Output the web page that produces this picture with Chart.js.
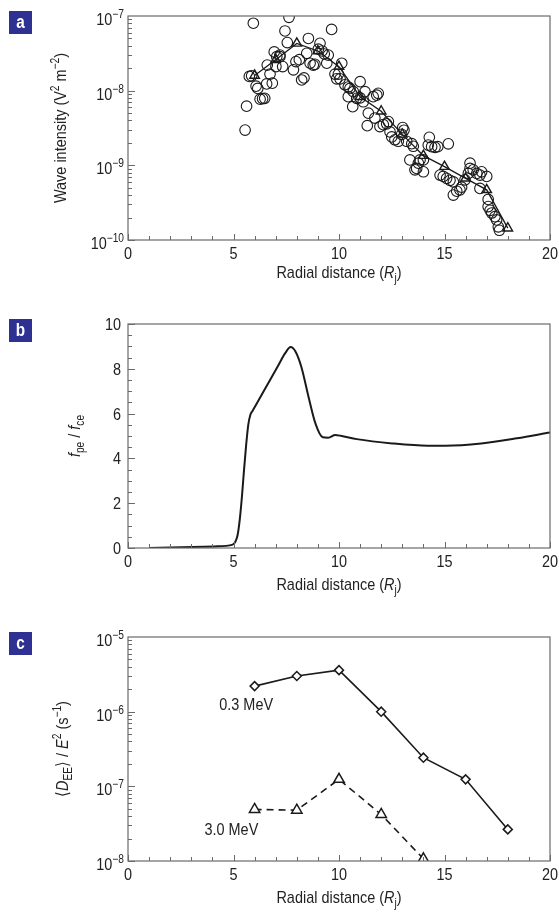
<!DOCTYPE html>
<html>
<head>
<meta charset="utf-8">
<script src="https://cdn.jsdelivr.net/npm/chart.js@4.4.1/dist/chart.umd.min.js"></script>
<style>
  body { margin: 0; background: #fff; width: 559px; height: 917px; overflow: hidden; position: relative; }
  canvas { position: absolute; left: 0; }
</style>
</head>
<body>
<canvas id="chartA" width="559" height="300" style="top:0"></canvas>
<canvas id="chartB" width="559" height="310" style="top:300px"></canvas>
<canvas id="chartC" width="559" height="307" style="top:610px"></canvas>
<script>
// panel a: individual measurements (circles)
const waveR = [5.55, 5.62, 5.75, 5.86, 5.94, 6.07, 6.15, 6.26, 6.38, 6.48, 6.57, 6.60, 6.73, 6.84, 6.93,
  7.01, 7.05, 7.20, 7.20, 7.33, 7.44, 7.55, 7.63, 7.84, 7.96, 8.12, 8.23, 8.34, 8.47, 8.55, 8.63,
  8.78, 8.86, 9.02, 9.10, 9.20, 9.30, 9.42, 9.49, 9.65, 9.81, 9.89, 9.97, 10.05, 10.13, 10.28, 10.44,
  10.52, 10.44, 10.65, 10.68, 10.84, 11.0, 11.0, 11.15, 11.23, 11.34, 11.39, 11.62, 11.70, 11.79,
  11.86, 11.94, 12.10, 12.26, 12.34, 12.42, 12.50, 12.65, 12.81, 12.97, 13.02, 13.08, 13.21, 13.36,
  13.45, 13.52, 13.60, 13.68, 13.76, 13.84, 14.00, 14.00, 14.23, 14.28, 14.39, 14.55, 14.68, 14.79,
  14.94, 15.10, 15.18, 15.26, 15.42, 15.42, 15.58, 15.73, 15.81, 15.97, 16.13, 16.21, 16.21, 16.36,
  16.53, 16.68, 16.68, 16.76, 17.00, 17.07, 17.07, 17.16, 17.24, 17.39, 17.47, 17.55, 17.60]
const waveW = [2.97e-9, 6.2e-9, 1.55e-8, 1.58e-8, 8.0e-8, 1.15e-8, 1.07e-8, 7.7e-9, 7.8e-9, 7.9e-9, 1.23e-8, 2.2e-8, 1.67e-8, 1.26e-8, 3.3e-8,
  2.1e-8, 2.85e-8, 2.85e-8, 3.0e-8, 2.1e-8, 6.3e-8, 4.4e-8, 9.6e-8, 1.9e-8, 2.45e-8, 2.6e-8, 1.39e-8, 1.48e-8, 3.16e-8, 5.0e-8, 2.33e-8,
  2.2e-8, 2.25e-8, 3.6e-8, 4.3e-8, 3.4e-8, 3.1e-8, 2.33e-8, 3.0e-8, 6.6e-8, 1.67e-8, 1.44e-8, 1.67e-8, 1.44e-8, 2.33e-8, 1.2e-8, 1.12e-8,
  1.07e-8, 8.3e-9, 6.1e-9, 9.7e-9, 7.9e-9, 8.0e-9, 1.32e-8, 7.1e-9, 9.7e-9, 3.4e-9, 5.0e-9, 8.3e-9, 4.3e-9, 8.7e-9,
  9.2e-9, 3.3e-9, 3.5e-9, 3.6e-9, 3.85e-9, 2.8e-9, 2.4e-9, 2.2e-9, 2.1e-9, 2.6e-9, 3.2e-9, 2.95e-9, 2.1e-9, 1.18e-9,
  1.95e-9, 1.8e-9, 8.7e-10, 9.1e-10, 1.07e-9, 1.18e-9, 1.18e-9, 8.2e-10, 1.87e-9, 2.37e-9, 1.78e-9, 1.74e-9, 1.78e-9, 7.4e-10,
  7.1e-10, 6.7e-10, 1.94e-9, 6.3e-10, 6.0e-10, 4.0e-10, 4.5e-10, 4.7e-10, 5.1e-10, 6.4e-10, 7.8e-10, 9.1e-10, 1.07e-9, 8.7e-10,
  7.8e-10, 7.4e-10, 4.9e-10, 8.2e-10, 7.1e-10, 3.5e-10, 2.8e-10, 2.5e-10, 2.3e-10, 2.05e-10, 1.86e-10, 1.5e-10, 1.35e-10]

// panel a: binned averages (triangles)
const binR = [6, 7, 8, 9, 10, 11, 12, 13, 14, 15, 16, 17, 18]
const binW = [1.6e-8, 2.6e-8, 4.3e-8, 3.4e-8, 2.1e-8, 8.3e-9, 5.3e-9, 2.6e-9, 1.35e-9, 9.6e-10, 6.7e-10, 4.7e-10, 1.44e-10]

// panel b: fpe/fce profile
const ratioR = [1.0, 4.1, 4.96, 5.1, 5.2, 5.3, 5.4, 5.5, 5.6, 5.7, 5.8, 5.9, 6.45, 7.12, 7.45, 7.71, 7.93, 8.22, 8.56, 8.89, 9.23, 9.49, 9.82, 10.08, 10.84, 12.52, 14.21, 15.05, 16.74, 18.43, 20]
const ratioV = [0.0, 0.07, 0.15, 0.3, 0.6, 1.3, 2.3, 3.5, 4.6, 5.5, 5.95, 6.12, 7.03, 8.15, 8.7, 8.97, 8.78, 8.07, 6.73, 5.54, 4.94, 4.92, 5.04, 5.01, 4.86, 4.67, 4.57, 4.57, 4.67, 4.9, 5.16]

// panel c: diffusion coefficients
const diffR = [6, 8, 10, 12, 14, 16, 18]
const diff03 = [2.2e-6, 3.0e-6, 3.6e-6, 1.0e-6, 2.42e-7, 1.24e-7, 2.65e-8]
const diffR30 = [6, 8, 10, 12, 14]
const diff30 = [4.9e-8, 4.8e-8, 1.24e-7, 4.2e-8, 1.07e-8]
const energyLabels = ['0.3 MeV', '3.0 MeV']
const energyLabelR = [5.6, 4.9]
const energyLabelD = [1.27e-6, 2.7e-8]

// axis ticks
const xMajor = [0, 5, 10, 15, 20]
const ratioMajor = [0, 2, 4, 6, 8, 10]
const waveDecades = [-10, -9, -8, -7]
const diffDecades = [-8, -7, -6, -5]

const FONT = '"Liberation Sans", Arial, sans-serif'
const SX = 0.85
const INK = '#1a1a1a'
const FRAME = '#6a6a6a'

function fontOf(p) {
  return (p.b ? 'bold ' : '') + (p.i ? 'italic ' : '') + (p.s || 17) + 'px ' + FONT
}

// rich text: parts = [{t, s, i, dy}], (x, y) = baseline anchor
function rich(ctx, parts, x, y, align, rot) {
  ctx.save()
  ctx.translate(x, y)
  if (rot) ctx.rotate(rot)
  ctx.scale(SX, 1)
  ctx.textAlign = 'left'
  ctx.textBaseline = 'alphabetic'
  let w = 0
  parts.forEach(p => { ctx.font = fontOf(p); p.w = ctx.measureText(p.t).width; w += p.w })
  let cx = align === 'center' ? -w / 2 : align === 'right' ? -w : 0
  parts.forEach(p => { ctx.font = fontOf(p); ctx.fillText(p.t, cx, p.dy || 0); cx += p.w })
  ctx.restore()
}

const xTitle = [{t: 'Radial distance ('}, {t: 'R', i: true}, {t: 'j', s: 12, dy: 4}, {t: ')'}]

function sup(n) { return '\u2212' + n }

function axesPlugin(cfg) {
  return {
    id: 'axes' + cfg.letter,
    afterDraw(chart) {
      const ctx = chart.ctx
      const a = chart.chartArea
      const xs = chart.scales.x
      const ys = chart.scales.y
      ctx.save()
      ctx.fillStyle = '#222'
      ctx.strokeStyle = FRAME
      ctx.lineWidth = 1.2
      ctx.strokeRect(a.left, a.top, a.right - a.left, a.bottom - a.top)
      ctx.lineWidth = 1
      ctx.beginPath()
      // x ticks, inward
      for (let v = 0; v <= 20; v++) {
        const px = Math.round(xs.getPixelForValue(v)) + 0.5
        const len = v % 5 === 0 ? 6 : 4
        ctx.moveTo(px, a.bottom); ctx.lineTo(px, a.bottom - len)
      }
      // y ticks, inward
      if (cfg.log) {
        for (let d = cfg.decades[0]; d < cfg.decades[cfg.decades.length - 1]; d++) {
          for (let m = 1; m < 10; m++) {
            const py = Math.round(ys.getPixelForValue(m * Math.pow(10, d))) + 0.5
            const len = m === 1 ? 7 : 4
            ctx.moveTo(a.left, py); ctx.lineTo(a.left + len, py)
          }
        }
      } else {
        for (let v = 0; v <= 10; v += 0.5) {
          const py = Math.round(ys.getPixelForValue(v)) + 0.5
          const len = v % 2 === 0 ? 7 : 4
          ctx.moveTo(a.left, py); ctx.lineTo(a.left + len, py)
        }
      }
      ctx.stroke()

      // tick labels
      xMajor.forEach(v => {
        rich(ctx, [{t: String(v)}], xs.getPixelForValue(v), a.bottom + 19, 'center')
      })
      if (cfg.log) {
        cfg.decades.forEach(d => {
          rich(ctx, [{t: '10'}, {t: sup(-d), s: 12, dy: -7}], a.left - 4, ys.getPixelForValue(Math.pow(10, d)) + 9, 'right')
        })
      } else {
        ratioMajor.forEach(v => {
          rich(ctx, [{t: String(v)}], a.left - 7, ys.getPixelForValue(v) + 6, 'right')
        })
      }

      // axis titles
      rich(ctx, xTitle, (a.left + a.right) / 2, a.bottom + cfg.xTitleGap, 'center')
      rich(ctx, cfg.yTitle, cfg.yTitleX, (a.top + a.bottom) / 2, 'center', -Math.PI / 2)

      // extra labels
      if (cfg.notes) cfg.notes.forEach(n => {
        rich(ctx, [{t: n.t}], xs.getPixelForValue(n.r), ys.getPixelForValue(n.v) + 6, 'center')
      })

      // panel letter
      ctx.fillStyle = '#2e3192'
      ctx.fillRect(9, a.top - 5, 23, 23)
      ctx.fillStyle = '#fff'
      rich(ctx, [{t: cfg.letter, b: true, s: 18}], 20.5, a.top + 12, 'center')
      ctx.restore()
    }
  }
}

function baseOptions(top, height, yScale) {
  return {
    responsive: false,
    animation: false,
    layout: { padding: { top: top, right: 9, left: 0, bottom: 0 } },
    plugins: { legend: { display: false }, tooltip: { enabled: false } },
    scales: {
      x: {
        type: 'linear', min: 0, max: 20, position: 'bottom',
        grid: { display: false }, border: { display: false }, ticks: { display: false },
        afterFit: s => { s.height = height - top - 224 }
      },
      y: Object.assign({
        grid: { display: false }, border: { display: false }, ticks: { display: false },
        afterFit: s => { s.width = 128 }
      }, yScale)
    }
  }
}

function pts(xs, ys) { return xs.map((x, i) => ({x: x, y: ys[i]})) }

// panel a
new Chart(document.getElementById('chartA'), {
  type: 'scatter',
  data: {
    datasets: [
      {
        data: pts(binR, binW), showLine: true,
        borderColor: INK, borderWidth: 1.3,
        pointStyle: 'triangle', pointRadius: 5.5, pointBorderWidth: 1.4,
        pointBackgroundColor: 'rgba(255,255,255,0)', pointBorderColor: INK
      },
      {
        data: pts(waveR, waveW), showLine: false,
        pointStyle: 'circle', pointRadius: 5.3, pointBorderWidth: 1.1,
        pointBackgroundColor: 'rgba(255,255,255,0)', pointBorderColor: INK
      }
    ]
  },
  options: baseOptions(16, 300, { type: 'logarithmic', min: 1e-10, max: 1e-7 }),
  plugins: [axesPlugin({
    letter: 'a', log: true, decades: waveDecades, yTitleX: 66, xTitleGap: 38,
    yTitle: [{t: 'Wave intensity (V'}, {t: '2', s: 12, dy: -7}, {t: ' m'}, {t: '\u22122', s: 12, dy: -7}, {t: ')'}]
  })]
})

// panel b
new Chart(document.getElementById('chartB'), {
  type: 'line',
  data: {
    datasets: [{
      data: pts(ratioR, ratioV),
      borderColor: INK, borderWidth: 2, pointRadius: 0,
      cubicInterpolationMode: 'monotone', fill: false
    }]
  },
  options: baseOptions(24, 310, { type: 'linear', min: 0, max: 10 }),
  plugins: [axesPlugin({
    letter: 'b', log: false, yTitleX: 80, xTitleGap: 42,
    yTitle: [{t: 'f', i: true}, {t: 'pe', s: 12, dy: 4}, {t: ' / '}, {t: 'f', i: true}, {t: 'ce', s: 12, dy: 4}]
  })]
})

// panel c
new Chart(document.getElementById('chartC'), {
  type: 'scatter',
  data: {
    datasets: [
      {
        data: pts(diffR, diff03), showLine: true,
        borderColor: INK, borderWidth: 1.6,
        pointStyle: 'rectRot', pointRadius: 4.5, pointBorderWidth: 1.5,
        pointBackgroundColor: '#fff', pointBorderColor: INK
      },
      {
        data: pts(diffR30, diff30), showLine: true,
        borderColor: INK, borderWidth: 1.6, borderDash: [7, 5],
        pointStyle: 'triangle', pointRadius: 6, pointBorderWidth: 1.5,
        pointBackgroundColor: '#fff', pointBorderColor: INK
      }
    ]
  },
  options: baseOptions(27, 307, { type: 'logarithmic', min: 1e-8, max: 1e-5 }),
  plugins: [axesPlugin({
    letter: 'c', log: true, decades: diffDecades, yTitleX: 68, xTitleGap: 42,
    yTitle: [{t: '\u27E8'}, {t: 'D', i: true}, {t: 'EE', s: 12, dy: 4}, {t: '\u27E9 / '}, {t: 'E', i: true},
      {t: '2', s: 12, dy: -7}, {t: ' (s'}, {t: '\u22121', s: 12, dy: -7}, {t: ')'}],
    notes: energyLabels.map((t, i) => ({t: t, r: energyLabelR[i], v: energyLabelD[i]}))
  })]
})
</script>
</body>
</html>
